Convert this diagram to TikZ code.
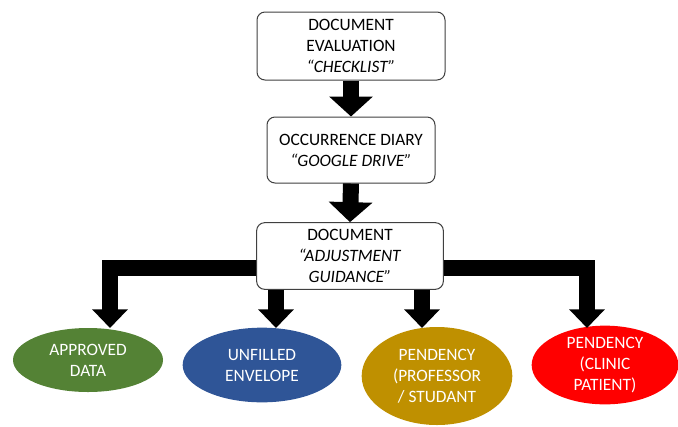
\documentclass[tikz,border=0pt]{standalone}
\usepackage{fontspec}
\setmainfont{Carlito}
\usetikzlibrary{shapes.geometric,arrows.meta}
\definecolor{approvedgreen}{HTML}{548235}
\definecolor{envelopeblue}{HTML}{2F5597}
\definecolor{pendgold}{HTML}{BF9000}
\definecolor{pendred}{HTML}{FF0000}

\begin{document}
\begin{tikzpicture}[x=0.75pt,y=-0.75pt,
  stagebox/.style={draw=black!75,line width=0.75pt,rounded corners=6pt,fill=white,
    align=center,inner sep=0pt,font=\fontsize{13pt}{15.75pt}\selectfont},
  outcome/.style={ellipse,inner sep=0pt,align=center,text=white,
    font=\fontsize{13pt}{15.75pt}\selectfont},
  blockarrow/.style={line width=12pt,-{Triangle[width=32pt,length=15pt]}},
  branch/.style={line width=12pt,-{Triangle[width=26pt,length=14pt]}}]
\useasboundingbox (0,0) rectangle (678,426);

% Checklist and diary boxes
\node[stagebox,minimum width=141pt,minimum height=51pt] (evaluation) at (351,46)
  {DOCUMENT\\EVALUATION\\\textit{``CHECKLIST''}};
\node[stagebox,minimum width=126pt,minimum height=49.5pt] (diary) at (351,150)
  {OCCURRENCE DIARY\\\textit{``GOOGLE DRIVE''}};
\draw[blockarrow] (evaluation.south) -- (diary.north);

% Adjustment guidance box
\node[stagebox,minimum width=140pt,minimum height=50pt] (guidance) at (350,256)
  {DOCUMENT\\\textit{``ADJUSTMENT}\\\textit{GUIDANCE''}};
\draw[blockarrow] (diary.south) -- (guidance.north);

% Outcomes
\node[outcome,fill=approvedgreen,minimum width=112.5pt,minimum height=48pt] (approved) at (88,360)
  {APPROVED\\DATA};
\node[outcome,fill=envelopeblue,minimum width=119pt,minimum height=56pt] (unfilled) at (262,365)
  {UNFILLED\\ENVELOPE};
\node[outcome,fill=pendgold,minimum width=113pt,minimum height=73.5pt] (professor) at (437,376)
  {PENDENCY\\(PROFESSOR\\/ STUDANT};
\node[outcome,fill=pendred,minimum width=110pt,minimum height=56pt] (clinic) at (605,365)
  {PENDENCY\\(CLINIC\\PATIENT)};

% Branch arrows
\coordinate (t1) at (110,328);
\coordinate (t2) at (276,328);
\coordinate (t3) at (422,328);
\coordinate (t4) at (587,328);
\draw[branch] ([yshift=-9pt]guidance.west) -| (t1);
\draw[branch] ([yshift=-9pt]guidance.east) -| (t4);
\draw[branch] (guidance.south -| t2) -- (t2);
\draw[branch] (guidance.south -| t3) -- (t3);
\end{tikzpicture}
\end{document}
